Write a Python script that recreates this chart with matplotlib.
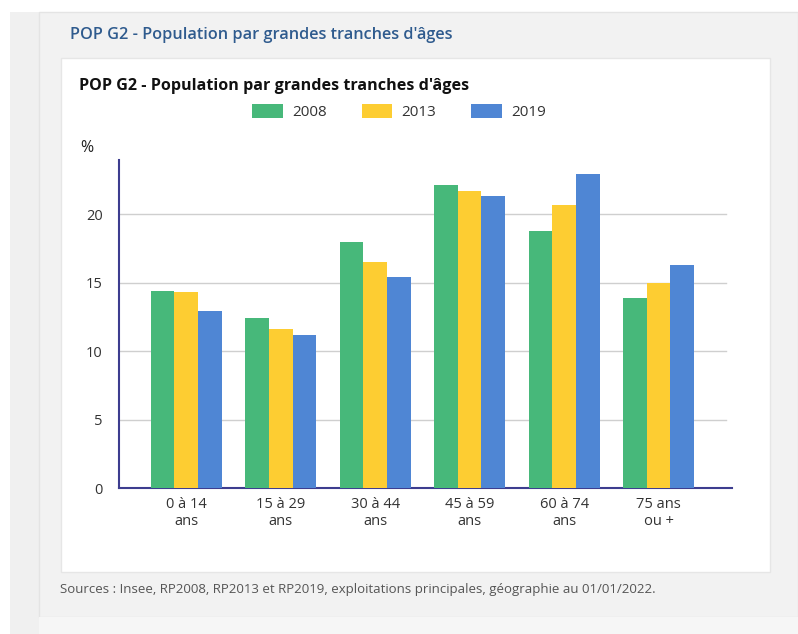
import matplotlib
matplotlib.use("Agg")
import matplotlib.pyplot as plt
from matplotlib.patches import Rectangle
import numpy as np

categories = ["0 à 14\nans", "15 à 29\nans", "30 à 44\nans", "45 à 59\nans", "60 à 74\nans", "75 ans\nou +"]
years = ["2008", "2013", "2019"]
v2008 = [14.4, 12.4, 18.0, 22.1, 18.8, 13.9]
v2013 = [14.3, 11.6, 16.5, 21.7, 20.7, 15.0]
v2019 = [12.9, 11.2, 15.4, 21.3, 22.9, 16.3]
yticks = [0, 5, 10, 15, 20]
colors = ["#47b87a", "#fdcd32", "#4f86d4"]

plt.rcParams['font.family'] = ['Open Sans', 'DejaVu Sans']

W, H = 798, 634
fig = plt.figure(figsize=(W / 100, H / 100), dpi=100)
fig.patch.set_facecolor("white")

def px_rect(x0, y0, x1, y1, fc, ec="none", lw=0):
    fig.patches.append(Rectangle((x0 / W, 1 - y1 / H), (x1 - x0) / W, (y1 - y0) / H,
                                 transform=fig.transFigure, facecolor=fc, edgecolor=ec,
                                 linewidth=lw, zorder=-10))

# page background
px_rect(10, 12, 798, 634, "#f0f0f0")
px_rect(39, 12, 798, 617, "#f2f2f2", ec="#e4e4e4", lw=1)
px_rect(39, 617, 798, 634, "#f6f6f6")
px_rect(61, 58, 770, 572, "white", ec="#e6e6e6", lw=1)

fig.text(70 / W, 1 - 35 / H, "POP G2 - Population par grandes tranches d'âges",
         color="#2f5b8e", fontsize=11.7, fontweight="semibold", va="center", ha="left")
fig.text(79 / W, 1 - 86 / H, "POP G2 - Population par grandes tranches d'âges",
         color="#111111", fontsize=11.65, fontweight="bold", va="center", ha="left")
fig.text(60 / W, 1 - 590 / H,
         "Sources : Insee, RP2008, RP2013 et RP2019, exploitations principales, géographie au 01/01/2022.",
         color="#555555", fontsize=9.5, va="center", ha="left")

ax = fig.add_axes([119.3 / W, 1 - 488.3 / H, (732 - 119.3) / W, (488.3 - 160) / H])
ax.set_facecolor("none")

x = np.arange(len(categories))
w = 0.25
series = [v2008, v2013, v2019]
for i, (vals, yr, c) in enumerate(zip(series, years, colors)):
    ax.bar(x + (i - 1) * w, vals, width=w, color=c, label=yr, zorder=3)

ax.set_xlim(-0.708, 5.776)
ax.set_ylim(0, 23.95)
ax.set_yticks(yticks)
ax.set_yticklabels([str(t) for t in yticks], fontsize=10.5, color="#333333")
ax.set_xticks(x)
ax.set_xticklabels(categories, fontsize=10.5, color="#333333", linespacing=1.25)
ax.tick_params(axis="both", length=0)
ax.tick_params(axis="y", pad=12)
ax.tick_params(axis="x", pad=6)
for t in yticks[1:]:
    ax.plot([0, 0.99], [t, t], transform=ax.get_yaxis_transform(), color="#cfcfcf", lw=1, zorder=1)
for s in ["top", "right"]:
    ax.spines[s].set_visible(False)
ax.spines["left"].set_color("#3d3d8f")
ax.spines["bottom"].set_color("#3d3d8f")
ax.spines["left"].set_linewidth(1.5)
ax.spines["bottom"].set_linewidth(1.5)

ax.text(80 / W, 1 - 148 / H, "%", transform=fig.transFigure, fontsize=11.5, color="#222222",
        va="center", ha="left")

leg = fig.legend(loc="center", bbox_to_anchor=(399 / W, 1 - 112 / H), ncol=3, frameon=False,
                 fontsize=11, handlelength=2.0, handleheight=1.0, columnspacing=2.3,
                 handletextpad=0.6)
for t in leg.get_texts():
    t.set_color("#333333")

fig.savefig("out.png", dpi=100)
